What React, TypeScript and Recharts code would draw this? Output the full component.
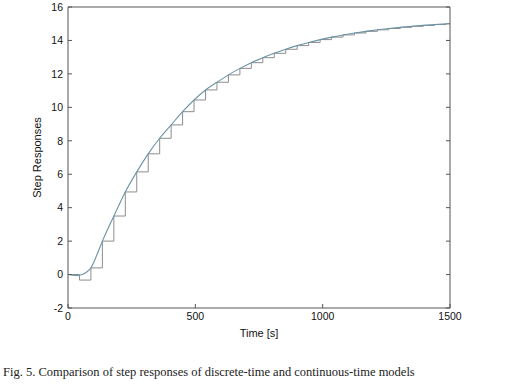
import React from 'react';
import { LineChart, Line, XAxis, YAxis, Label } from 'recharts';

// Discrete-time model: sample instants [s] and held values
const sampleTimes = [0, 45, 90, 135, 180, 225, 270, 315, 360, 405, 450, 495, 540, 585, 630, 675, 720, 765, 810, 855, 900, 945, 990, 1035, 1080, 1125, 1170, 1215, 1260, 1305, 1350, 1395, 1440, 1485, 1500];
const discreteValues = [0, -0.33, 0.4, 2.0, 3.5, 4.94, 6.14, 7.22, 8.15, 8.95, 9.74, 10.44, 11.04, 11.5, 11.94, 12.33, 12.67, 12.97, 13.23, 13.47, 13.69, 13.88, 14.05, 14.2, 14.33, 14.445, 14.545, 14.635, 14.715, 14.785, 14.845, 14.9, 14.95, 14.995, 14.995];

// Continuous-time model
const contTimes = [0, 15, 30, 45, 60, 75, 90, 112, 135, 157, 180, 225, 270, 315, 360, 405, 450, 495, 540, 585, 630, 675, 720, 765, 810, 855, 900, 945, 990, 1035, 1080, 1125, 1170, 1215, 1260, 1305, 1350, 1395, 1440, 1485, 1500];
const contValues = [0, -0.03, -0.05, -0.04, 0.03, 0.17, 0.4, 1.12, 2.0, 2.76, 3.5, 4.94, 6.14, 7.22, 8.15, 8.95, 9.74, 10.44, 11.04, 11.5, 11.94, 12.33, 12.67, 12.97, 13.23, 13.47, 13.69, 13.88, 14.05, 14.2, 14.33, 14.445, 14.545, 14.635, 14.715, 14.785, 14.845, 14.9, 14.95, 14.995, 15.01];

const xTicks = [0, 500, 1000, 1500];
const yTicks = [-2, 0, 2, 4, 6, 8, 10, 12, 14, 16];

const xLabel = 'Time [s]';
const yLabel = 'Step Responses';
const caption = 'Fig. 5. Comparison of step responses of discrete-time and continuous-time models';

const discreteData = sampleTimes.map((t, i) => ({ t, v: discreteValues[i] }));
const contData = contTimes.map((t, i) => ({ t, v: contValues[i] }));

const FONT = '"Liberation Sans", Arial, sans-serif';
const AXIS = '#555';
const tickStyle = { fill: '#111', fontSize: 10.5, fontFamily: FONT };
const empty = () => '';

export default function App() {
  return (
    <div style={{ position: 'absolute', left: 0, top: 0, width: 516, height: 386, background: '#fff' }}>
      <LineChart width={516} height={340} margin={{ top: 0, right: 0, bottom: 0, left: 0 }}>
        <XAxis
          dataKey="t"
          type="number"
          domain={[0, 1500]}
          ticks={xTicks}
          allowDataOverflow
          height={32}
          tickSize={-4}
          tickMargin={9}
          stroke={AXIS}
          tick={tickStyle}
        >
          <Label value={xLabel} position="insideBottom" offset={3} style={{ fill: '#111', fontSize: 11, fontFamily: FONT }} />
        </XAxis>
        <XAxis
          xAxisId="top"
          orientation="top"
          type="number"
          domain={[0, 1500]}
          ticks={xTicks}
          allowDataOverflow
          height={7}
          tickSize={-4}
          tickFormatter={empty}
          stroke={AXIS}
        />
        <YAxis
          type="number"
          domain={[-2, 16]}
          ticks={yTicks}
          allowDataOverflow
          width={68}
          tickSize={-4}
          tickMargin={9}
          stroke={AXIS}
          tick={tickStyle}
        >
          <Label value={yLabel} angle={-90} position="insideLeft" offset={37} style={{ fill: '#111', fontSize: 11, fontFamily: FONT, textAnchor: 'middle' }} />
        </YAxis>
        <YAxis
          yAxisId="right"
          orientation="right"
          type="number"
          domain={[-2, 16]}
          ticks={yTicks}
          allowDataOverflow
          width={66}
          tickSize={-4}
          tickFormatter={empty}
          stroke={AXIS}
        />
        <Line
          data={discreteData}
          dataKey="v"
          type="stepAfter"
          stroke="#8c8c8c"
          strokeWidth={1}
          dot={false}
          isAnimationActive={false}
        />
        <Line
          data={contData}
          dataKey="v"
          type="monotone"
          stroke="#6a93a6"
          strokeWidth={1.1}
          dot={false}
          isAnimationActive={false}
        />
      </LineChart>
      <div
        style={{
          position: 'absolute',
          left: 3,
          top: 365,
          fontFamily: '"Liberation Serif", "DejaVu Serif", serif',
          fontSize: 12.5,
          color: '#222',
          whiteSpace: 'nowrap',
        }}
      >
        {caption}
      </div>
    </div>
  );
}
